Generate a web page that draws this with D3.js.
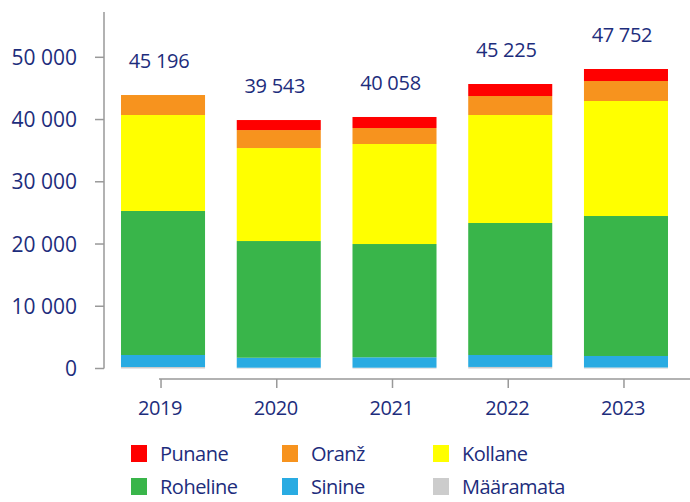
<!DOCTYPE html>
<html>
<head>
<meta charset="utf-8">
<script src="https://cdn.jsdelivr.net/npm/d3@7.9.0/dist/d3.min.js"></script>
<style>
  body { margin: 0; background: #fff; }
  text { font-family: "Open Sans", sans-serif; fill: #1d2d7c; }
</style>
</head>
<body>
<svg width="690" height="502"></svg>
<script>
const years = ['2019', '2020', '2021', '2022', '2023'];
const totals = ['45 196', '39 543', '40 058', '45 225', '47 752'];

// bottom to top
const categories = ['Määramata', 'Sinine', 'Roheline', 'Kollane', 'Oranž', 'Punane'];
const colors = ['#cccccc', '#29abe2', '#39b54a', '#ffff00', '#f7931e', '#ff0000'];

const maaramata = [240, 130, 130, 250, 160];
const sinine = [1930, 1600, 1670, 1920, 1850];
const roheline = [23140, 18750, 18200, 21210, 22490];
const kollane = [15420, 14940, 16070, 17350, 18480];
const oranz = [3210, 2890, 2570, 3050, 3210];
const punane = [0, 1610, 1770, 1930, 1930];

const yTicks = [0, 10000, 20000, 30000, 40000, 50000];
const legendOrder = ['Punane', 'Oranž', 'Kollane', 'Roheline', 'Sinine', 'Määramata'];

const series = [maaramata, sinine, roheline, kollane, oranz, punane];
const rows = years.map((yr, i) => {
  const r = { year: yr };
  categories.forEach((c, k) => r[c] = series[k][i]);
  return r;
});

const svg = d3.select('svg');
const color = d3.scaleOrdinal(categories, colors);

const x = d3.scaleBand().domain(years).range([104, 685])
  .paddingInner(0.274).paddingOuter(0.147);
const y = d3.scaleLinear().domain([0, 50000]).range([368.5, 57.3]);

const stacked = d3.stack().keys(categories)(rows);

// bars
svg.append('g').selectAll('g')
  .data(stacked)
  .join('g')
    .attr('fill', d => color(d.key))
  .selectAll('rect')
  .data(d => d)
  .join('rect')
    .attr('x', d => x(d.data.year))
    .attr('width', x.bandwidth())
    .attr('y', d => y(d[1]))
    .attr('height', d => y(d[0]) - y(d[1]));

// y axis
const yAxis = svg.append('g');
yAxis.append('line')
  .attr('x1', 104).attr('x2', 104).attr('y1', 12).attr('y2', y(0))
  .attr('stroke', '#999').attr('stroke-width', 1.5);
yAxis.selectAll('.tick').data(yTicks).join('line')
  .attr('x1', 95).attr('x2', 104)
  .attr('y1', d => y(d)).attr('y2', d => y(d))
  .attr('stroke', '#999').attr('stroke-width', 1.5);
yAxis.selectAll('text').data(yTicks).join('text')
  .attr('x', 77).attr('y', d => y(d))
  .attr('dy', '0.36em')
  .attr('text-anchor', 'end')
  .style('font-size', '21px')
  .text(d => d3.format(',')(d).replace(/,/g, ' '));

// x axis
const xc = d => x(d) + x.bandwidth() / 2;
const xAxis = svg.append('g');
xAxis.append('line')
  .attr('x1', xc(years[0]) - 4).attr('x2', 690).attr('y1', 379).attr('y2', 379)
  .attr('stroke', '#999').attr('stroke-width', 1.5);
xAxis.selectAll('line.t').data(years).join('line')
  .attr('class', 't')
  .attr('x1', d => xc(d) - 2).attr('x2', d => xc(d) - 2).attr('y1', 379).attr('y2', 388)
  .attr('stroke', '#999').attr('stroke-width', 1.5);
xAxis.selectAll('text').data(years).join('text')
  .attr('x', d => xc(d) - 3).attr('y', 408)
  .attr('dy', '0.36em')
  .attr('text-anchor', 'middle')
  .style('font-size', '20px')
  .style('letter-spacing', '-0.4px')
  .text(d => d);

// totals above bars
svg.append('g').selectAll('text').data(rows).join('text')
  .attr('x', d => xc(d.year) - 4)
  .attr('y', d => y(d3.sum(categories, c => d[c])) - 34)
  .attr('dy', '0.36em')
  .attr('text-anchor', 'middle')
  .style('font-size', '20px')
  .style('letter-spacing', '-0.3px')
  .text((d, i) => totals[i]);

// legend
const legend = svg.append('g');
const item = legend.selectAll('g').data(legendOrder).join('g')
  .attr('transform', (d, i) => `translate(${131 + (i % 3) * 151},${445 + Math.floor(i / 3) * 33})`);
item.append('rect')
  .attr('width', 16).attr('height', 17)
  .attr('fill', d => color(d));
item.append('text')
  .attr('x', 29).attr('y', 9)
  .attr('dy', '0.36em')
  .style('font-size', '20px')
  .style('letter-spacing', '-0.5px')
  .text(d => d);
</script>
</body>
</html>
